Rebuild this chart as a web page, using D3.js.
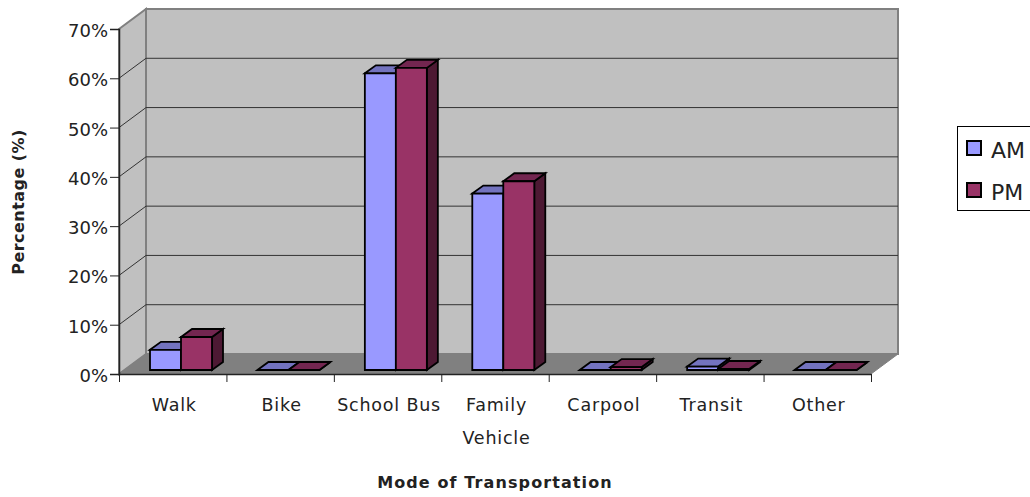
<!DOCTYPE html>
<html>
<head>
<meta charset="utf-8">
<script src="https://cdn.jsdelivr.net/npm/d3@7"></script>
<style>
  html, body { margin: 0; padding: 0; background: #fff; overflow: hidden; }
  text { font-family: "DejaVu Sans", Verdana, sans-serif; fill: #222; }
</style>
</head>
<body>
<div id="chart"></div>
<script>
// chart values
var categories = ['Walk', 'Bike', 'School Bus', 'Family Vehicle', 'Carpool', 'Transit', 'Other']
var am_values = [4.1, 0, 60.2, 35.8, 0, 0.7, 0]
var pm_values = [6.7, 0, 61.3, 38.3, 0.6, 0.2, 0]
var y_ticks = [0, 10, 20, 30, 40, 50, 60, 70]
var series_names = ['AM', 'PM']

var width = 1030
var height = 497

// front plane of the chart box
var margin = { left: 119, right: 159, top: 29, bottom: 123 }
// how far the back wall is shifted from the front plane
var wall_dx = 27
var wall_dy = -20
// bars stand a little behind the front edge
var bar_front_dx = 4
var bar_front_dy = -4
var bar_dx = 11
var bar_dy = -8

var colors = {
  AM: { front: '#9999ff', top: '#7373bf', side: '#4d4d80' },
  PM: { front: '#993366', top: '#732650', side: '#4d1933' }
}

var svg = d3.select('#chart')
  .append('svg')
  .attr('width', width)
  .attr('height', height)
  .style('display', 'block')

var x0 = d3.scaleBand()
  .domain(categories)
  .range([margin.left, width - margin.right])

var x1 = d3.scaleBand()
  .domain(series_names)
  .range([27, 89])

var y = d3.scaleLinear()
  .domain([0, 70])
  .range([height - margin.bottom, margin.top])

var xLeft = margin.left
var xRight = width - margin.right
var yBottom = y(0)
var yTop = y(70)

function pts(list) {
  return list.map(p => p.join(',')).join(' ')
}

// back wall
svg.append('polygon')
  .attr('points', pts([[xLeft + wall_dx, yTop + wall_dy], [xRight + wall_dx, yTop + wall_dy], [xRight + wall_dx, yBottom + wall_dy], [xLeft + wall_dx, yBottom + wall_dy]]))
  .attr('fill', '#c0c0c0')
  .attr('stroke', '#808080')
  .attr('stroke-width', 2)

// side wall
svg.append('polygon')
  .attr('points', pts([[xLeft, yTop], [xLeft + wall_dx, yTop + wall_dy], [xLeft + wall_dx, yBottom + wall_dy], [xLeft, yBottom]]))
  .attr('fill', '#c0c0c0')
  .attr('stroke', '#808080')
  .attr('stroke-width', 2)

// floor
svg.append('polygon')
  .attr('points', pts([[xLeft, yBottom], [xLeft + wall_dx, yBottom + wall_dy], [xRight + wall_dx, yBottom + wall_dy], [xRight, yBottom]]))
  .attr('fill', '#808080')
  .attr('stroke', '#808080')

// gridlines on wall and side wall
var grid = svg.append('g').attr('fill', 'none').attr('stroke', '#333').attr('stroke-width', 1)
y_ticks.filter(d => d > 0 && d < 70).forEach(d => {
  grid.append('polyline')
    .attr('points', pts([[xLeft, y(d)], [xLeft + wall_dx, y(d) + wall_dy], [xRight + wall_dx, y(d) + wall_dy]]))
})

// 3d bars
function drawBar(g, cat, name, value) {
  var c = colors[name]
  var bx = x0(cat) + x1(name) + bar_front_dx
  var bw = x1.bandwidth()
  var yb = y(0) + bar_front_dy
  var yt = y(value) + bar_front_dy
  var faces = [
    { fill: c.side, p: [[bx + bw, yt], [bx + bw + bar_dx, yt + bar_dy], [bx + bw + bar_dx, yb + bar_dy], [bx + bw, yb]] },
    { fill: c.top, p: [[bx, yt], [bx + bar_dx, yt + bar_dy], [bx + bw + bar_dx, yt + bar_dy], [bx + bw, yt]] },
    { fill: c.front, p: [[bx, yt], [bx + bw, yt], [bx + bw, yb], [bx, yb]] }
  ]
  faces.forEach(f => {
    g.append('polygon')
      .attr('points', pts(f.p))
      .attr('fill', f.fill)
      .attr('stroke', '#000')
      .attr('stroke-width', 1.8)
      .attr('stroke-linejoin', 'miter')
  })
}

var bars = svg.append('g')
categories.forEach((cat, i) => {
  drawBar(bars, cat, 'AM', am_values[i])
  drawBar(bars, cat, 'PM', pm_values[i])
})

// y axis
var yAxis = svg.append('g')
  .attr('transform', 'translate(' + xLeft + ',0)')
  .call(d3.axisLeft(y).tickValues(y_ticks).tickFormat(d => d + '%').tickSize(9).tickPadding(2))
yAxis.selectAll('text').attr('font-size', '18px').attr('dy', '0.42em').style('font-family', '"DejaVu Sans"')
yAxis.select('.domain').attr('stroke', '#222').attr('stroke-width', 1.5)
yAxis.selectAll('.tick line').attr('stroke', '#222')

// x axis, ticks sit between the categories
var xEdges = d3.scaleLinear().domain([0, categories.length]).range([xLeft, xRight])
var xAxis = svg.append('g')
  .attr('transform', 'translate(0,' + yBottom + ')')
  .call(d3.axisBottom(xEdges).tickValues(d3.range(categories.length + 1)).tickFormat('').tickSize(8).tickSizeOuter(0))
xAxis.select('.domain').attr('stroke', '#222').attr('stroke-width', 1.5)
xAxis.selectAll('.tick line').attr('stroke', '#222')

// category labels, long ones wrap
svg.append('g').selectAll('text')
  .data(categories)
  .enter()
  .append('text')
  .attr('text-anchor', 'middle')
  .attr('font-size', '17.5px')
  .attr('letter-spacing', '0.8px')
  .each(function (d) {
    var cx = x0(d) + x0.bandwidth() / 2 + 1.5
    var lines = d === 'Family Vehicle' ? ['Family', 'Vehicle'] : [d]
    var t = d3.select(this)
    lines.forEach((line, i) => {
      t.append('tspan').attr('x', cx).attr('y', 411 + i * 33).text(line)
    })
  })

// axis titles
svg.append('text')
  .attr('x', 495)
  .attr('y', 488)
  .attr('text-anchor', 'middle')
  .attr('font-size', '16px')
  .attr('font-weight', 'bold')
  .attr('letter-spacing', '1.1px')
  .text('Mode of Transportation')

svg.append('text')
  .attr('transform', 'translate(24,202) rotate(-90)')
  .attr('text-anchor', 'middle')
  .attr('font-size', '16px')
  .attr('font-weight', 'bold')
  .attr('letter-spacing', '0.45px')
  .text('Percentage (%)')

// legend
var legend = svg.append('g')
legend.append('rect')
  .attr('x', 957.5).attr('y', 126.5).attr('width', 90).attr('height', 84)
  .attr('fill', '#fff').attr('stroke', '#000')
series_names.forEach((name, i) => {
  legend.append('rect')
    .attr('x', 967).attr('y', 141 + i * 42).attr('width', 14).attr('height', 14)
    .attr('fill', colors[name].front).attr('stroke', '#000').attr('stroke-width', 2)
  legend.append('text')
    .attr('x', 991).attr('y', 158 + i * 42)
    .attr('font-size', '22px')
    .text(name)
})
</script>
</body>
</html>
